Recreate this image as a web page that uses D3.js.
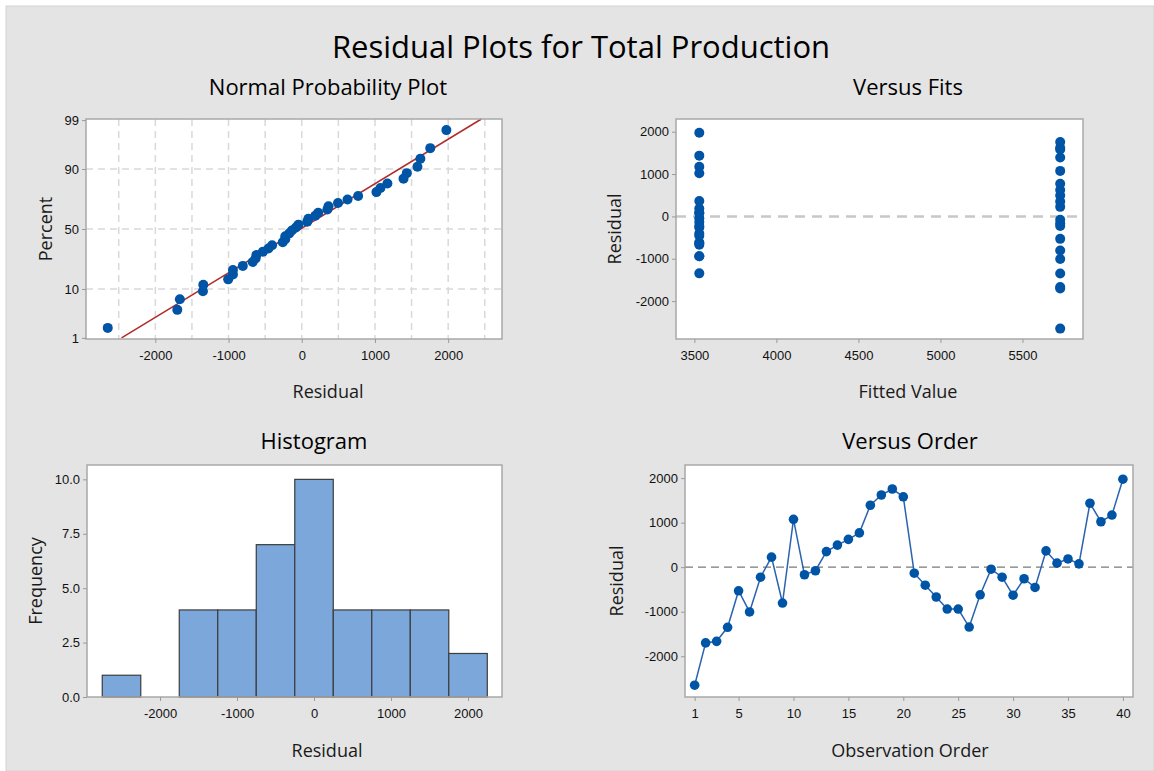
<!DOCTYPE html>
<html lang="en">
<head>
  <meta charset="UTF-8">
  <title>Residual Plots for Total Production</title>
  <script src="https://d3js.org/d3.v7.min.js"></script>
  <style>
    body { margin: 0; background: #fff; }
    svg { display: block; font-family: "Open Sans", "Noto Sans", sans-serif; }
    .tick text { font-size: 13px; fill: #111; }
    .tick line { stroke: #9a9a9a; }
    .domain { display: none; }
    .ptitle { font-size: 22px; fill: #000; text-anchor: middle; }
    .atitle { font-size: 18px; fill: #1a1a1a; text-anchor: middle; }
  </style>
</head>
<body>
  <div id="chart"></div>

  <script>
    const width = 1154;
    const height = 771;

    // residuals in observation order
    const residuals = [
      -2650, -1700, -1665, -1350, -530, -1005, -225, 225, -805, 1075,
      -170, -80, 350, 495, 625, 770, 1390, 1620, 1755, 1580,
      -135, -405, -670, -940, -940, -1345, -620, -45, -225, -630,
      -260, -455, 365, 90, 185, 75, 1435, 1020, 1170, 1975
    ];
    // fitted value for each observation
    const fitted = [
      5730, 5730, 5730, 5730, 5730, 5730, 5730, 5730, 5730, 5730,
      5730, 5730, 5730, 5730, 5730, 5730, 5730, 5730, 5730, 5730,
      3530, 3530, 3530, 3530, 3530, 3530, 3530, 3530, 3530, 3530,
      3530, 3530, 3530, 3530, 3530, 3530, 3530, 3530, 3530, 3530
    ];
    // histogram bins (midpoints, width 500) and counts
    const binMids = [-2500, -2000, -1500, -1000, -500, 0, 500, 1000, 1500, 2000];
    const binCounts = [1, 0, 4, 4, 7, 10, 4, 4, 4, 2];
    const binWidth = 500;

    const percentTicks = [1, 10, 50, 90, 99];
    const residTicks = [-2000, -1000, 0, 1000, 2000];
    const fitTicks = [3500, 4000, 4500, 5000, 5500];
    const freqTicks = [0, 2.5, 5, 7.5, 10];
    const orderTicks = [1, 5, 10, 15, 20, 25, 30, 35, 40];

    const blue = "#0054a6";
    const plain = d => String(d);          // hyphen minus, no grouping
    const oneDec = d => d.toFixed(1);

    const svg = d3.select("#chart").append("svg")
      .attr("width", width)
      .attr("height", height);

    svg.append("rect")
      .attr("x", 6).attr("y", 6)
      .attr("width", width - 6).attr("height", height - 6)
      .attr("fill", "#e4e4e4")
      .attr("stroke", "#d4d4d4");

    svg.append("text")
      .attr("x", 581).attr("y", 58)
      .attr("text-anchor", "middle")
      .attr("font-size", 31)
      .attr("fill", "#000")
      .text("Residual Plots for Total Production");

    // inverse standard normal CDF (Acklam)
    function qnorm(p) {
      const a = [-39.69683028665376, 220.9460984245205, -275.9285104469687, 138.357751867269, -30.66479806614716, 2.506628277459239];
      const b = [-54.47609879822406, 161.5858368580409, -155.6989798598866, 66.80131188771972, -13.28068155288572];
      const c = [-0.007784894002430293, -0.3223964580411365, -2.400758277161838, -2.549732539343734, 4.374664141464968, 2.938163982698783];
      const d = [0.007784695709041462, 0.3224671290700398, 2.445134137142996, 3.754408661907416];
      const pl = 0.02425;
      let q, r;
      if (p < pl) {
        q = Math.sqrt(-2 * Math.log(p));
        return (((((c[0]*q+c[1])*q+c[2])*q+c[3])*q+c[4])*q+c[5]) / ((((d[0]*q+d[1])*q+d[2])*q+d[3])*q+1);
      }
      if (p > 1 - pl) {
        q = Math.sqrt(-2 * Math.log(1 - p));
        return -(((((c[0]*q+c[1])*q+c[2])*q+c[3])*q+c[4])*q+c[5]) / ((((d[0]*q+d[1])*q+d[2])*q+d[3])*q+1);
      }
      q = p - 0.5; r = q * q;
      return (((((a[0]*r+a[1])*r+a[2])*r+a[3])*r+a[4])*r+a[5])*q / (((((b[0]*r+b[1])*r+b[2])*r+b[3])*r+b[4])*r+1);
    }

    // box = plot area, t = title/label positions
    const panel = (box, t, title, xTitle, yTitle) => {
      const g = svg.append("g");
      g.append("rect")
        .attr("x", box.x0).attr("y", box.y0)
        .attr("width", box.x1 - box.x0).attr("height", box.y1 - box.y0)
        .attr("fill", "#fff");
      g.append("text").attr("class", "ptitle")
        .attr("x", t.cx).attr("y", t.ty)
        .text(title);
      g.append("text").attr("class", "atitle")
        .attr("x", t.cx).attr("y", t.xy)
        .text(xTitle);
      g.append("text").attr("class", "atitle")
        .attr("transform", `translate(${t.yx},${(box.y0 + box.y1) / 2}) rotate(-90)`)
        .text(yTitle);
      return g;
    };

    const frame = (g, box) => {
      g.append("rect")
        .attr("x", box.x0).attr("y", box.y0)
        .attr("width", box.x1 - box.x0).attr("height", box.y1 - box.y0)
        .attr("fill", "none")
        .attr("stroke", "#a8a8a8")
        .attr("stroke-width", 1.5);
    };

    const axes = (g, box, x, y, xt, yt, xfmt, yfmt) => {
      g.append("g")
        .attr("transform", `translate(0,${box.y1})`)
        .call(d3.axisBottom(x).tickValues(xt).tickSize(4).tickPadding(8).tickFormat(xfmt));
      g.append("g")
        .attr("transform", `translate(${box.x0},0)`)
        .call(d3.axisLeft(y).tickValues(yt).tickSize(4).tickPadding(3).tickFormat(yfmt));
    };

    // ---- Normal Probability Plot ----
    {
      const box = {x0: 86, x1: 502, y0: 119, y1: 339};
      const g = panel(box, {cx: 328, ty: 95, xy: 398, yx: 52}, "Normal Probability Plot", "Residual", "Percent");
      const x = d3.scaleLinear().domain([-2947, 2735]).range([box.x0, box.x1]);
      const y = d3.scaleLinear().domain([-2.35, 2.35]).range([box.y1, box.y0]);

      const grid = g.append("g").attr("stroke", "#d9d9d9").attr("stroke-width", 1.5).attr("stroke-dasharray", "7,5");
      grid.selectAll("line.v").data(d3.range(-2500, 2501, 500)).join("line")
        .attr("x1", d => x(d)).attr("x2", d => x(d))
        .attr("y1", box.y0).attr("y2", box.y1);
      grid.selectAll("line.h").data([10, 50, 90]).join("line")
        .attr("x1", box.x0).attr("x2", box.x1)
        .attr("y1", d => y(qnorm(d / 100))).attr("y2", d => y(qnorm(d / 100)));

      // fitted normal line
      const mu = d3.mean(residuals), sd = d3.deviation(residuals);
      const zLo = qnorm(0.01), zHi = y.invert(box.y0);
      g.append("line")
        .attr("x1", x(mu + sd * zLo)).attr("y1", y(zLo))
        .attr("x2", x(mu + sd * zHi)).attr("y2", y(zHi))
        .attr("stroke", "#b22a2a").attr("stroke-width", 1.5);

      const n = residuals.length;
      const sorted = residuals.slice().sort((a, b) => a - b);
      g.selectAll("circle").data(sorted).join("circle")
        .attr("cx", d => x(d))
        .attr("cy", (d, i) => y(qnorm((i + 1 - 0.3) / (n + 0.4))))
        .attr("r", 5).attr("fill", blue);

      frame(g, box);
      axes(g, box, x, y, residTicks, percentTicks.map(p => qnorm(p / 100)), plain, (d, i) => percentTicks[i]);
    }

    // ---- Versus Fits ----
    {
      const box = {x0: 676, x1: 1083, y0: 119, y1: 339};
      const g = panel(box, {cx: 908, ty: 95, xy: 398, yx: 621}, "Versus Fits", "Fitted Value", "Residual");
      const x = d3.scaleLinear().domain([3388, 5869]).range([box.x0, box.x1]);
      const y = d3.scaleLinear().domain([-2895, 2300]).range([box.y1, box.y0]);

      g.append("line")
        .attr("x1", box.x0).attr("x2", box.x1)
        .attr("y1", y(0)).attr("y2", y(0))
        .attr("stroke", "#c8c8c8").attr("stroke-width", 2.5).attr("stroke-dasharray", "10,7");

      g.selectAll("circle").data(residuals).join("circle")
        .attr("cx", (d, i) => x(fitted[i]))
        .attr("cy", d => y(d))
        .attr("r", 5).attr("fill", blue);

      frame(g, box);
      axes(g, box, x, y, fitTicks, residTicks, plain, plain);
    }

    // ---- Histogram ----
    {
      const box = {x0: 87, x1: 502, y0: 465, y1: 697};
      const g = panel(box, {cx: 314, ty: 449, xy: 757, yx: 42}, "Histogram", "Residual", "Frequency");
      g.select(".atitle").attr("x", 327);
      const x = d3.scaleLinear().domain([-2948, 2441]).range([box.x0, box.x1]);
      const y = d3.scaleLinear().domain([0, 10.66]).range([box.y1, box.y0]);

      g.selectAll("rect.bar").data(binMids.map((m, i) => ({m, c: binCounts[i]})).filter(d => d.c > 0)).join("rect")
        .attr("class", "bar")
        .attr("x", d => x(d.m - binWidth / 2))
        .attr("width", d => x(d.m + binWidth / 2) - x(d.m - binWidth / 2))
        .attr("y", d => y(d.c))
        .attr("height", d => y(0) - y(d.c))
        .attr("fill", "#7ba7da")
        .attr("stroke", "#3d3d3d")
        .attr("stroke-width", 1.2);

      frame(g, box);
      axes(g, box, x, y, residTicks, freqTicks, plain, oneDec);
    }

    // ---- Versus Order ----
    {
      const box = {x0: 685, x1: 1133, y0: 465, y1: 697};
      const g = panel(box, {cx: 910, ty: 449, xy: 757, yx: 623}, "Versus Order", "Observation Order", "Residual");
      const x = d3.scaleLinear().domain([0.12, 40.92]).range([box.x0, box.x1]);
      const y = d3.scaleLinear().domain([-2915, 2294]).range([box.y1, box.y0]);

      g.append("line")
        .attr("x1", box.x0).attr("x2", box.x1)
        .attr("y1", y(0)).attr("y2", y(0))
        .attr("stroke", "#7a7a7a").attr("stroke-width", 1.3).attr("stroke-dasharray", "8,5");

      const line = d3.line().x((d, i) => x(i + 1)).y(d => y(d));
      g.append("path")
        .datum(residuals)
        .attr("d", line)
        .attr("fill", "none")
        .attr("stroke", "#2a63b0")
        .attr("stroke-width", 1.5);

      g.selectAll("circle").data(residuals).join("circle")
        .attr("cx", (d, i) => x(i + 1))
        .attr("cy", d => y(d))
        .attr("r", 4.8).attr("fill", blue);

      frame(g, box);
      axes(g, box, x, y, orderTicks, residTicks, plain, plain);
    }
  </script>
</body>
</html>
